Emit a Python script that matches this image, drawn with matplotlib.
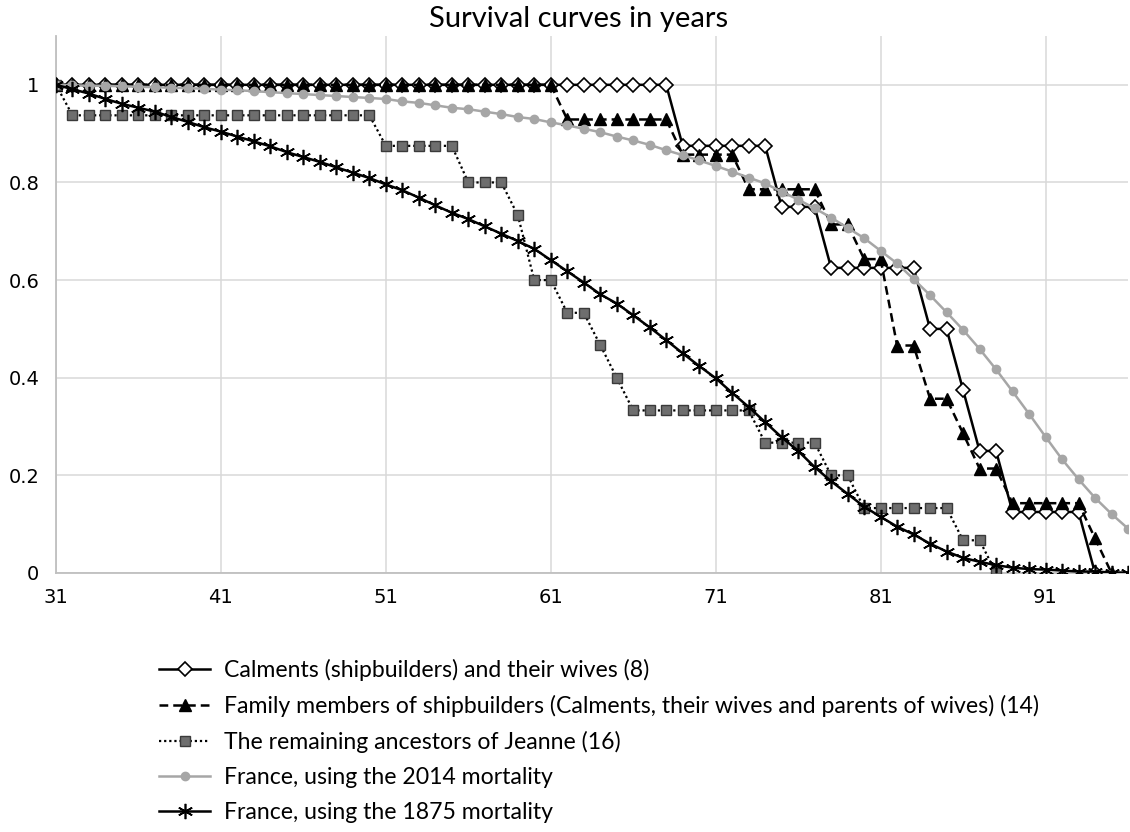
import numpy as np
import matplotlib
matplotlib.use("Agg")
import matplotlib.pyplot as plt
from matplotlib.ticker import FixedLocator, FuncFormatter

# ---------------- data ----------------
title = "Survival curves in years"
x_ticks = [31, 41, 51, 61, 71, 81, 91]
y_ticks = [0, 0.2, 0.4, 0.6, 0.8, 1]

labels = [
    "Calments (shipbuilders) and their wives (8)",
    "Family members of shipbuilders (Calments, their wives and parents of wives) (14)",
    "The remaining ancestors of Jeanne (16)",
    "France, using the 2014 mortality",
    "France, using the 1875 mortality",
]

years_calments = list(range(31, 95))
calments = [1, 1, 1, 1, 1, 1, 1, 1, 1, 1,            # 31-40
            1, 1, 1, 1, 1, 1, 1, 1, 1, 1,            # 41-50
            1, 1, 1, 1, 1, 1, 1, 1, 1, 1,            # 51-60
            1, 1, 1, 1, 1, 1, 1, 1,                  # 61-68
            0.875, 0.875, 0.875, 0.875, 0.875, 0.875,  # 69-74
            0.75, 0.75, 0.75,                        # 75-77
            0.625, 0.625, 0.625, 0.625, 0.625, 0.625,  # 78-83
            0.5, 0.5,                                # 84-85
            0.375,                                   # 86
            0.25, 0.25,                              # 87-88
            0.125, 0.125, 0.125, 0.125, 0.125,       # 89-93
            0]                                       # 94

years_family = list(range(31, 96))
family = [1, 1, 1, 1, 1, 1, 1, 1, 1, 1,              # 31-40
          1, 1, 1, 1, 1, 1, 1, 1, 1, 1,              # 41-50
          1, 1, 1, 1, 1, 1, 1, 1, 1, 1,              # 51-60
          1,                                         # 61
          0.929, 0.929, 0.929, 0.929, 0.929, 0.929, 0.929,  # 62-68
          0.857, 0.857, 0.857, 0.857,                # 69-72
          0.786, 0.786, 0.786, 0.786, 0.786,         # 73-77
          0.714, 0.714,                              # 78-79
          0.643, 0.643,                              # 80-81
          0.466, 0.466,                              # 82-83
          0.357, 0.357,                              # 84-85
          0.286,                                     # 86
          0.214, 0.214,                              # 87-88
          0.143, 0.143, 0.143, 0.143, 0.143,         # 89-93
          0.071,                                     # 94
          0]                                         # 95

years_remaining = list(range(31, 89))
remaining = [1,                                      # 31
             0.9375, 0.9375, 0.9375, 0.9375, 0.9375, 0.9375, 0.9375, 0.9375, 0.9375,  # 32-40
             0.9375, 0.9375, 0.9375, 0.9375, 0.9375, 0.9375, 0.9375, 0.9375, 0.9375, 0.9375,  # 41-50
             0.875, 0.875, 0.875, 0.875, 0.875,      # 51-55
             0.8, 0.8, 0.8,                          # 56-58
             0.733,                                  # 59
             0.6, 0.6,                               # 60-61
             0.533, 0.533,                           # 62-63
             0.467,                                  # 64
             0.4,                                    # 65
             0.333, 0.333, 0.333, 0.333, 0.333, 0.333, 0.333, 0.333,  # 66-73
             0.267, 0.267, 0.267, 0.267,             # 74-77
             0.2, 0.2,                               # 78-79
             0.133, 0.133, 0.133, 0.133, 0.133, 0.133,  # 80-85
             0.067, 0.067,                           # 86-87
             0]                                      # 88

years_france = list(range(31, 97))
france_2014 = [1.000, 0.999, 0.998, 0.998, 0.997, 0.996, 0.995, 0.994, 0.993, 0.992,  # 31-40
               0.990, 0.989, 0.987, 0.985, 0.983, 0.981, 0.979, 0.977, 0.975, 0.973,  # 41-50
               0.971, 0.966, 0.963, 0.958, 0.953, 0.950, 0.945, 0.940, 0.934, 0.930,  # 51-60
               0.923, 0.917, 0.910, 0.903, 0.894, 0.886, 0.877, 0.866, 0.856, 0.845,  # 61-70
               0.834, 0.822, 0.810, 0.798, 0.781, 0.765, 0.747, 0.728, 0.707, 0.686,  # 71-80
               0.660, 0.634, 0.602, 0.569, 0.534, 0.498, 0.459, 0.417, 0.372, 0.326,  # 81-90
               0.279, 0.233, 0.192, 0.154, 0.121, 0.091]                              # 91-96
france_1875 = [1.000, 0.991, 0.982, 0.971, 0.961, 0.953, 0.945, 0.934, 0.924, 0.913,  # 31-40
               0.904, 0.894, 0.884, 0.874, 0.862, 0.852, 0.842, 0.831, 0.820, 0.809,  # 41-50
               0.796, 0.784, 0.769, 0.753, 0.738, 0.725, 0.710, 0.695, 0.680, 0.664,  # 51-60
               0.641, 0.618, 0.595, 0.571, 0.552, 0.528, 0.503, 0.477, 0.450, 0.424,  # 61-70
               0.399, 0.369, 0.340, 0.309, 0.278, 0.250, 0.217, 0.188, 0.162, 0.136,  # 71-80
               0.115, 0.095, 0.079, 0.060, 0.044, 0.031, 0.023, 0.016, 0.011, 0.008,  # 81-90
               0.007, 0.005, 0.003, 0.003, 0.001, 0.001]                              # 91-96

# ---------------- figure ----------------
W, H = 1130, 832
fig = plt.figure(figsize=(W / 100, H / 100), dpi=100)
ax = fig.add_axes([56 / W, (H - 573) / H, (1128 - 56) / W, (573 - 36) / H])

grid_col = "#D9D9D9"
ax.set_xlim(31, 96)
ax.set_ylim(0, 1.1)
ax.xaxis.set_major_locator(FixedLocator(x_ticks))
ax.yaxis.set_major_locator(FixedLocator(y_ticks))
ax.yaxis.set_major_formatter(FuncFormatter(lambda v, p: "%g" % v))
ax.grid(True, color=grid_col, linewidth=1.1)
ax.set_axisbelow(True)
for s in ("top", "right"):
    ax.spines[s].set_visible(False)
for s in ("left", "bottom"):
    ax.spines[s].set_color("#BFBFBF")
    ax.spines[s].set_linewidth(1.3)
ax.tick_params(length=0, labelsize=14, colors="black", pad=12)
ax.tick_params(axis="x", pad=11)

ast = (6, 2, 0)
l1, = ax.plot(years_calments, calments, color="black", lw=1.8, ls="-",
              marker="D", ms=7, mfc="white", mec="black", mew=1.2, zorder=3)
l2, = ax.plot(years_family, family, color="black", lw=1.8, ls=(0, (3.5, 2)),
              marker="^", ms=9, mfc="black", mec="black", zorder=4)
l3, = ax.plot(years_remaining, remaining, color="black", lw=1.6, ls=(0, (1, 1.3)),
              marker="s", ms=7, mfc="#6E6E6E", mec="#3A3A3A", mew=1.0, zorder=5)
l4, = ax.plot(years_france, france_2014, color="#A6A6A6", lw=1.8, ls="-",
              marker="o", ms=6, mfc="#A6A6A6", mec="#A6A6A6", zorder=6)
l5, = ax.plot(years_france, france_1875, color="black", lw=1.8, ls="-",
              marker=ast, ms=11, mec="black", mew=1.2, zorder=7)

fig.text(0.512, 1 - 19 / H, title, ha="center", va="center",
         fontsize=21, family="Lato")

leg = fig.legend([l1, l2, l3, l4, l5], labels, loc="upper left",
                 bbox_to_anchor=(150 / W, 1 - 650 / H), frameon=False,
                 prop={"family": "Lato", "size": 16.6}, handlelength=2.2,
                 handletextpad=0.6, labelspacing=0.6, borderaxespad=0)

fig.savefig("out.png", dpi=100)
